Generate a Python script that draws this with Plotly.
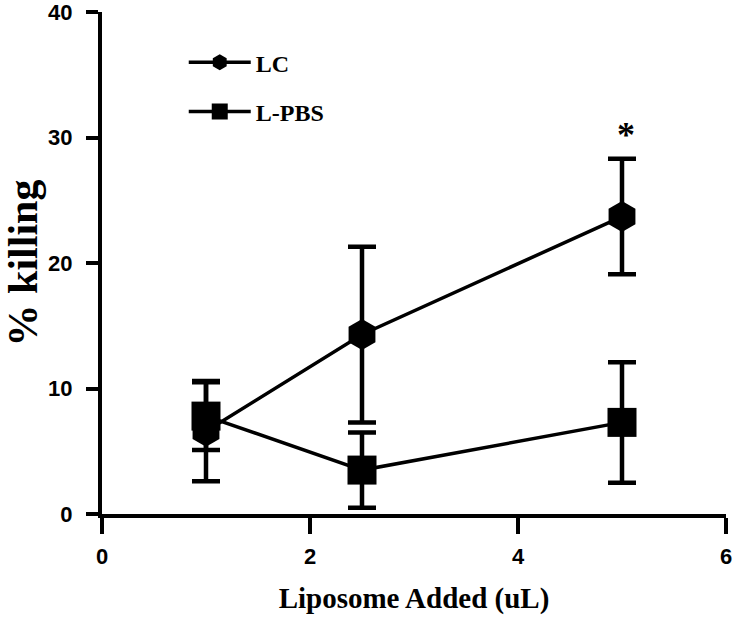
import plotly.graph_objects as go

# liposome volume (uL) and % killing
dose = [1, 2.5, 5]
lc_mean = [6.6, 14.3, 23.7]
lc_err = [4.0, 7.0, 4.6]
pbs_mean = [7.8, 3.5, 7.3]
pbs_err = [2.7, 3.0, 4.8]

x_ticks = [0, 2, 4, 6]
y_ticks = [0, 10, 20, 30, 40]

fig = go.Figure()

fig.add_trace(go.Scatter(
    x=dose, y=pbs_mean, name="L-PBS", legendgroup="b", legendrank=2,
    mode="lines+markers",
    line=dict(color="black", width=3.5),
    marker=dict(symbol="square", size=29, color="black"),
    error_y=dict(type="data", array=pbs_err, color="black", thickness=4.5, width=14),
))
fig.add_trace(go.Scatter(
    x=dose, y=lc_mean, name="LC", legendgroup="a", legendrank=1,
    mode="lines+markers",
    line=dict(color="black", width=3.5),
    marker=dict(symbol="hexagon", size=31, color="black"),
    error_y=dict(type="data", array=lc_err, color="black", thickness=4.5, width=14),
))

fig.add_annotation(x=5, y=30.2, xshift=4, text="*", showarrow=False,
                   font=dict(family="Liberation Serif", size=36, color="black", weight="bold"))

fig.update_xaxes(
    range=[0, 6], tickvals=x_ticks, showgrid=False, zeroline=False,
    showline=True, linecolor="black", linewidth=4, automargin=False,
    ticklabeloverflow="allow", ticklabelstandoff=4,
    ticks="outside", ticklen=16, tickwidth=4, tickcolor="black",
    tickfont=dict(family="Liberation Sans", size=22, color="black", weight="bold"),
    title=dict(text="Liposome Added (uL)", standoff=20,
               font=dict(family="Liberation Serif", size=29, color="black", weight="bold")),
)
fig.update_yaxes(
    range=[0, 40], tickvals=y_ticks, showgrid=False, zeroline=False,
    showline=True, linecolor="black", linewidth=4, automargin=False,
    ticklabeloverflow="allow", ticklabelstandoff=9,
    ticks="outside", ticklen=12, tickwidth=4, tickcolor="black",
    tickfont=dict(family="Liberation Sans", size=22, color="black", weight="bold"),
    title=dict(text="% killing", standoff=8,
               font=dict(family="Liberation Serif", size=42, color="black", weight="bold")),
)

fig.update_layout(
    width=734, height=619,
    margin=dict(l=102, r=8, t=12, b=105),
    plot_bgcolor="white", paper_bgcolor="white",
    legend=dict(x=0.131, y=0.944, xanchor="left", yanchor="top",
                traceorder="grouped", tracegroupgap=15, itemwidth=62,
                font=dict(family="Liberation Serif", size=24, color="black", weight="bold"),
                bgcolor="rgba(0,0,0,0)"),
)

# the page's default 8px body margin would shift the whole figure
fig.write_html("out.html", config={"displayModeBar": False},
               post_script="document.body.style.margin='0';")
